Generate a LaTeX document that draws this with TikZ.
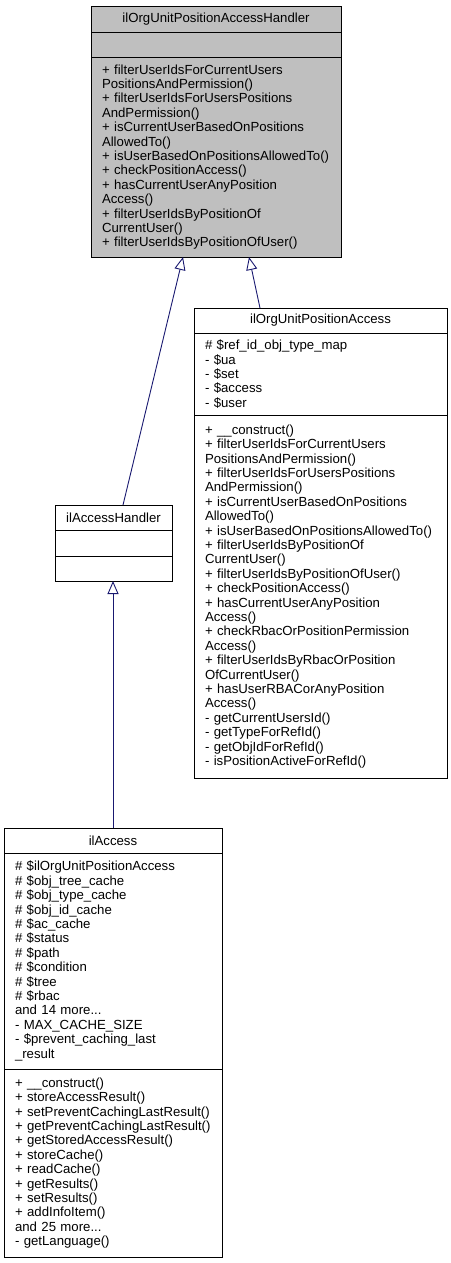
\documentclass[tikz,border=0pt]{standalone}
\usepackage{fontspec}
\setmainfont{Liberation Sans}
\usetikzlibrary{positioning,arrows.meta}
\definecolor{classgray}{HTML}{BFBFBF}
\definecolor{edgeblue}{HTML}{191970}
\newcommand{\umlfont}{\fontsize{13.2}{14.4}\selectfont}
\tikzset{
  classpart/.style={draw=black, line width=0.8pt, outer sep=0pt, font=\umlfont,
    inner xsep=11pt, inner ysep=0pt, align=left},
  classtitle/.style={classpart, align=center},
  inherit/.style={draw=edgeblue, line width=0.9pt,
    -{Triangle[open, length=13pt, width=11pt]}}
}
\begin{document}
\begin{tikzpicture}[x=1pt, y=-1pt]
      \useasboundingbox (0,0) rectangle (450,1263);
      \node[classtitle, fill=classgray, anchor=north west, text width=228pt, minimum height=26pt]
        (posh) at (91,6) {ilOrgUnitPositionAccessHandler};
      \node[classpart, fill=classgray, below=0pt of posh, text width=228pt, minimum height=25pt]
        (poshattr) {};
      \node[classpart, fill=classgray, below=0pt of poshattr, text width=228pt, minimum height=200pt]
        (poshops) {+~filterUserIdsForCurrentUsers\\PositionsAndPermission()\\
          +~filterUserIdsForUsersPositions\\AndPermission()\\
          +~isCurrentUserBasedOnPositions\\AllowedTo()\\
          +~isUserBasedOnPositionsAllowedTo()\\
          +~checkPositionAccess()\\
          +~hasCurrentUserAnyPosition\\Access()\\
          +~filterUserIdsByPositionOf\\CurrentUser()\\
          +~filterUserIdsByPositionOfUser()};
      \node[classtitle, anchor=north west, text width=231pt, minimum height=25pt]
        (posa) at (194,308) {ilOrgUnitPositionAccess};
      \node[classpart, below=0pt of posa, text width=231pt, minimum height=82pt]
        (posaattr) {\#~\$ref\_id\_obj\_type\_map\\-~\$ua\\-~\$set\\-~\$access\\-~\$user};
      \node[classpart, below=0pt of posaattr, text width=231pt, minimum height=363pt]
        (posaops) {+~\_\_construct()\\
          +~filterUserIdsForCurrentUsers\\PositionsAndPermission()\\
          +~filterUserIdsForUsersPositions\\AndPermission()\\
          +~isCurrentUserBasedOnPositions\\AllowedTo()\\
          +~isUserBasedOnPositionsAllowedTo()\\
          +~filterUserIdsByPositionOf\\CurrentUser()\\
          +~filterUserIdsByPositionOfUser()\\
          +~checkPositionAccess()\\
          +~hasCurrentUserAnyPosition\\Access()\\
          +~checkRbacOrPositionPermission\\Access()\\
          +~filterUserIdsByRbacOrPosition\\OfCurrentUser()\\
          +~hasUserRBACorAnyPosition\\Access()\\
          -~getCurrentUsersId()\\
          -~getTypeForRefId()\\
          -~getObjIdForRefId()\\
          -~isPositionActiveForRefId()};
      \node[classtitle, anchor=north west, text width=95pt, minimum height=25pt]
        (ach) at (55,505) {ilAccessHandler};
      \node[classpart, below=0pt of ach, text width=95pt, minimum height=26pt]
        (achattr) {};
      \node[classpart, below=0pt of achattr, text width=95pt, minimum height=25pt]
        (achops) {};
      \node[classtitle, anchor=north west, text width=196pt, minimum height=25pt]
        (acc) at (4,828) {ilAccess};
      \node[classpart, below=0pt of acc, text width=196pt, minimum height=216pt]
        (accattr) {\#~\$ilOrgUnitPositionAccess\\\#~\$obj\_tree\_cache\\
          \#~\$obj\_type\_cache\\\#~\$obj\_id\_cache\\\#~\$ac\_cache\\
          \#~\$status\\\#~\$path\\\#~\$condition\\\#~\$tree\\\#~\$rbac\\
          and 14 more...\\-~MAX\_CACHE\_SIZE\\-~\$prevent\_caching\_last\\\_result};
      \node[classpart, below=0pt of accattr, text width=196pt, minimum height=188pt]
        (accops) {+~\_\_construct()\\+~storeAccessResult()\\
          +~setPreventCachingLastResult()\\+~getPreventCachingLastResult()\\
          +~getStoredAccessResult()\\+~storeCache()\\+~readCache()\\
          +~getResults()\\+~setResults()\\+~addInfoItem()\\
          and 25 more...\\-~getLanguage()};
      \begin{scope}[inherit]
        \draw ([xshift=9.5pt]ach.north) to ([xshift=-33pt]poshops.south);
        \draw ([xshift=-60.5pt]posa.north) to ([xshift=33pt]poshops.south);
        \draw (acc.north) to (acc.north |- achops.south);
      \end{scope}
    \end{tikzpicture}
\end{document}
